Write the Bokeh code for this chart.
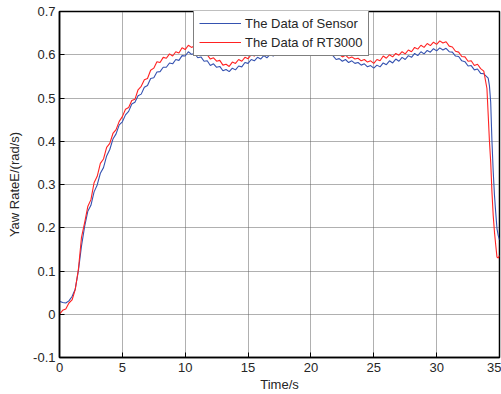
from bokeh.plotting import figure
from bokeh.models import Range1d, FixedTicker, Legend, ColumnDataSource
from bokeh.embed import file_html
from bokeh.resources import INLINE

time_s = [
    0.0, 0.25, 0.5, 0.75, 1.0, 1.25, 1.5, 1.75,
    2.0, 2.25, 2.5, 2.75, 3.0, 3.25, 3.5, 3.75,
    4.0, 4.25, 4.5, 4.75, 5.0, 5.25, 5.5, 5.75,
    6.0, 6.25, 6.5, 6.75, 7.0, 7.25, 7.5, 7.75,
    8.0, 8.25, 8.5, 8.75, 9.0, 9.25, 9.5, 9.75,
    10.0, 10.25, 10.5, 10.75, 11.0, 11.25, 11.5, 11.75,
    12.0, 12.25, 12.5, 12.75, 13.0, 13.25, 13.5, 13.75,
    14.0, 14.25, 14.5, 14.75, 15.0, 15.25, 15.5, 15.75,
    16.0, 16.25, 16.5, 16.75, 17.0, 17.25, 17.5, 17.75,
    18.0, 18.25, 18.5, 18.75, 19.0, 19.25, 19.5, 19.75,
    20.0, 20.25, 20.5, 20.75, 21.0, 21.25, 21.5, 21.75,
    22.0, 22.25, 22.5, 22.75, 23.0, 23.25, 23.5, 23.75,
    24.0, 24.25, 24.5, 24.75, 25.0, 25.25, 25.5, 25.75,
    26.0, 26.25, 26.5, 26.75, 27.0, 27.25, 27.5, 27.75,
    28.0, 28.25, 28.5, 28.75, 29.0, 29.25, 29.5, 29.75,
    30.0, 30.25, 30.5, 30.75, 31.0, 31.25, 31.5, 31.75,
    32.0, 32.25, 32.5, 32.75, 33.0, 33.25, 33.5, 33.75,
    34.0, 34.1, 34.2, 34.3, 34.4, 34.5, 34.6, 34.7, 34.8, 34.9, 35.0,
]

sensor = [
    0.030, 0.027, 0.026, 0.031, 0.041, 0.058, 0.100, 0.158,
    0.203, 0.238, 0.252, 0.283, 0.299, 0.326, 0.339, 0.366,
    0.381, 0.405, 0.417, 0.438, 0.445, 0.461, 0.469, 0.486,
    0.490, 0.505, 0.509, 0.525, 0.529, 0.545, 0.547, 0.560,
    0.561, 0.571, 0.571, 0.581, 0.579, 0.589, 0.587, 0.598,
    0.597, 0.607, 0.601, 0.603, 0.593, 0.595, 0.585, 0.586,
    0.575, 0.579, 0.571, 0.573, 0.563, 0.566, 0.561, 0.569,
    0.565, 0.574, 0.572, 0.582, 0.580, 0.589, 0.586, 0.594,
    0.590, 0.598, 0.593, 0.601, 0.597, 0.606, 0.607, 0.613,
    0.610, 0.616, 0.612, 0.618, 0.614, 0.619, 0.615, 0.618,
    0.613, 0.616, 0.610, 0.612, 0.606, 0.607, 0.601, 0.598,
    0.589, 0.591, 0.585, 0.589, 0.582, 0.586, 0.580, 0.582,
    0.576, 0.579, 0.572, 0.575, 0.569, 0.576, 0.572, 0.581,
    0.577, 0.586, 0.581, 0.590, 0.585, 0.594, 0.589, 0.598,
    0.594, 0.603, 0.598, 0.607, 0.602, 0.610, 0.606, 0.614,
    0.609, 0.616, 0.611, 0.615, 0.607, 0.606, 0.597, 0.596,
    0.586, 0.584, 0.574, 0.575, 0.565, 0.567, 0.557, 0.556,
    0.549, 0.546, 0.528, 0.490, 0.400, 0.330, 0.275, 0.235, 0.198, 0.182, 0.172,
]

rt3000 = [
    0.000, 0.009, 0.012, 0.026, 0.033, 0.057, 0.103, 0.178,
    0.212, 0.249, 0.265, 0.304, 0.319, 0.349, 0.359, 0.386,
    0.395, 0.418, 0.427, 0.446, 0.457, 0.474, 0.478, 0.494,
    0.497, 0.519, 0.527, 0.542, 0.545, 0.564, 0.569, 0.584,
    0.582, 0.594, 0.592, 0.602, 0.597, 0.607, 0.604, 0.616,
    0.612, 0.622, 0.617, 0.621, 0.610, 0.611, 0.600, 0.600,
    0.590, 0.593, 0.585, 0.587, 0.576, 0.578, 0.573, 0.583,
    0.580, 0.589, 0.585, 0.594, 0.591, 0.600, 0.597, 0.606,
    0.604, 0.612, 0.609, 0.617, 0.614, 0.621, 0.618, 0.625,
    0.621, 0.627, 0.622, 0.628, 0.623, 0.628, 0.622, 0.626,
    0.620, 0.623, 0.617, 0.619, 0.613, 0.614, 0.608, 0.606,
    0.598, 0.601, 0.595, 0.599, 0.592, 0.595, 0.590, 0.592,
    0.586, 0.589, 0.583, 0.586, 0.580, 0.589, 0.586, 0.597,
    0.592, 0.600, 0.595, 0.603, 0.599, 0.607, 0.602, 0.611,
    0.607, 0.617, 0.613, 0.622, 0.617, 0.626, 0.621, 0.629,
    0.624, 0.632, 0.627, 0.630, 0.620, 0.618, 0.608, 0.606,
    0.596, 0.595, 0.585, 0.586, 0.575, 0.578, 0.568, 0.562,
    0.522, 0.462, 0.400, 0.352, 0.282, 0.228, 0.190, 0.160, 0.132, 0.130, 0.136,
]

x_ticks = [0, 5, 10, 15, 20, 25, 30, 35]
y_ticks = [-0.1, 0.0, 0.1, 0.2, 0.3, 0.4, 0.5, 0.6, 0.7]
y_tick_labels = ["-0.1", "0", "0.1", "0.2", "0.3", "0.4", "0.5", "0.6", "0.7"]
series_names = ["The Data of Sensor", "The Data of RT3000"]
x_label = "Time/s"
y_label = "Yaw RateE/(rad/s)"

FONT = "Liberation Sans"
TXT = "#262626"

p = figure(width=501, height=394, output_backend="svg", toolbar_location=None,
           x_range=Range1d(0, 35), y_range=Range1d(-0.1, 0.7),
           min_border_left=59, min_border_right=2, min_border_top=11, min_border_bottom=37,
           x_axis_label=x_label, y_axis_label=y_label)

p.outline_line_color = "black"
p.outline_line_width = 1.5
p.background_fill_color = "white"
p.border_fill_color = "white"

for ax in (p.xaxis[0], p.yaxis[0]):
    ax.axis_line_color = "black"
    ax.axis_line_width = 1.5
    ax.major_tick_in = 5
    ax.major_tick_out = 0
    ax.minor_tick_line_color = None
    ax.major_tick_line_color = "black"
    ax.major_label_text_font = FONT
    ax.major_label_text_font_size = "13px"
    ax.major_label_text_color = TXT
    ax.axis_label_text_font = FONT
    ax.axis_label_text_font_size = "13px"
    ax.axis_label_text_font_style = "normal"
    ax.axis_label_text_color = TXT

p.xaxis[0].ticker = FixedTicker(ticks=x_ticks)
p.yaxis[0].ticker = FixedTicker(ticks=y_ticks)
p.yaxis[0].major_label_overrides = {t: l for t, l in zip(y_ticks, y_tick_labels)}
p.xaxis[0].major_label_standoff = 5
p.xaxis[0].axis_label_standoff = 2
p.yaxis[0].major_label_standoff = 4
p.yaxis[0].axis_label_standoff = 8

p.xgrid.ticker = FixedTicker(ticks=x_ticks)
p.ygrid.ticker = FixedTicker(ticks=y_ticks)
for g in (p.xgrid[0], p.ygrid[0]):
    g.grid_line_color = "#606060"
    g.grid_line_dash = "1 1"
    g.grid_line_width = 1

src = ColumnDataSource(dict(t=time_s, sensor=sensor, rt=rt3000))
r_blue = p.line("t", "sensor", source=src, line_color="#3552b0", line_width=1.1)
r_red = p.line("t", "rt", source=src, line_color="#ff2222", line_width=1.1)

legend = Legend(items=[(series_names[0], [r_blue]), (series_names[1], [r_red])],
                location=(134, 301), border_line_color="black", border_line_width=1,
                background_fill_color="white", background_fill_alpha=1,
                label_text_font=FONT, label_text_font_size="13px", label_text_color=TXT,
                glyph_width=42, glyph_height=16, label_height=16, label_width=118,
                spacing=3, padding=5, margin=0, label_standoff=4)
p.add_layout(legend)

open("out.html", "w").write(file_html(p, INLINE))
